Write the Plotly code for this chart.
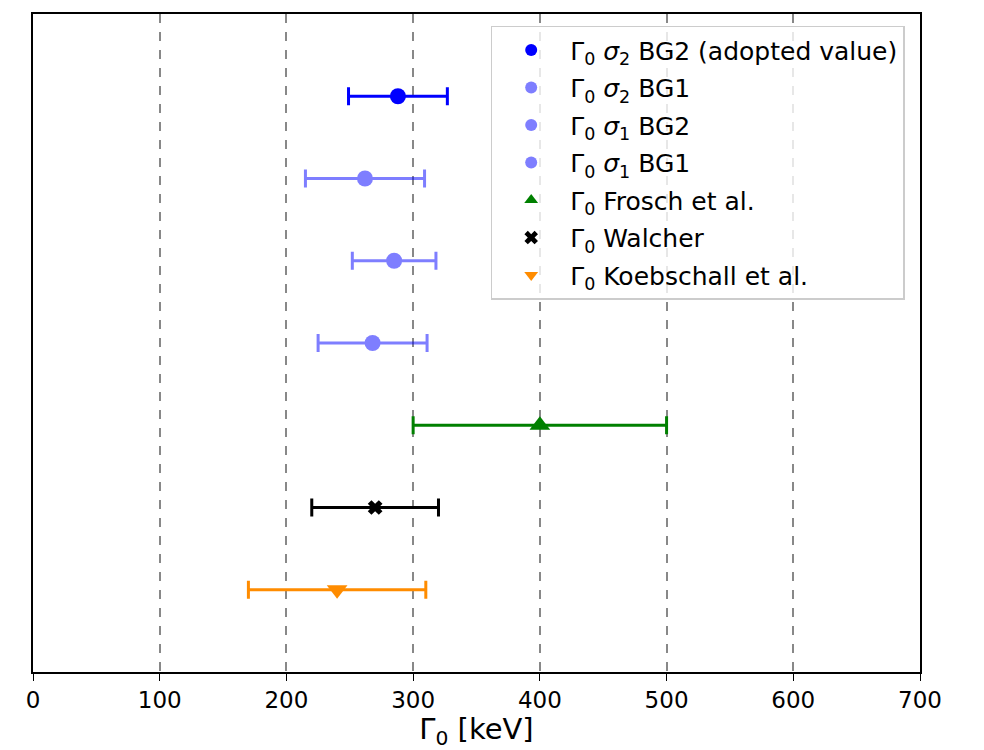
import plotly.graph_objects as go

# Γ0 determinations (keV): central value and symmetric uncertainty
labels = [
    "Γ<sub>0</sub> <i>σ</i><sub>2</sub> BG2 (adopted value)",
    "Γ<sub>0</sub> <i>σ</i><sub>2</sub> BG1",
    "Γ<sub>0</sub> <i>σ</i><sub>1</sub> BG2",
    "Γ<sub>0</sub> <i>σ</i><sub>1</sub> BG1",
    "Γ<sub>0</sub> Frosch et al.",
    "Γ<sub>0</sub> Walcher",
    "Γ<sub>0</sub> Koebschall et al.",
]
gamma0 = [288, 262, 285, 268, 400, 270, 240]
gamma0_err = [39, 47, 33, 43, 100, 50, 70]
rows = [7, 6, 5, 4, 3, 2, 1]

colors = ["blue", "blue", "blue", "blue", "green", "black", "darkorange"]
opacities = [1.0, 0.5, 0.5, 0.5, 1.0, 1.0, 1.0]
symbols = ["circle", "circle", "circle", "circle", "triangle-up", "x", "triangle-down"]
sizes = [16, 16, 16, 16, 18, 13, 18]

fig = go.Figure()
for i, (lab, g, e, r, c, op, sym, sz) in enumerate(
        zip(labels, gamma0, gamma0_err, rows, colors, opacities, symbols, sizes)):
    fig.add_trace(go.Scatter(
        x=[g], y=[r], mode="markers", name=lab, opacity=op,
        legendgroup=f"g{i}",
        marker=dict(color=c, symbol=sym, size=sz, line=dict(width=0)),
        error_x=dict(type="data", array=[e], symmetric=True, color=c, thickness=3, width=9),
    ))

fig.update_layout(
    width=984, height=750,
    margin=dict(l=33, r=64, t=12, b=78),
    plot_bgcolor="white", paper_bgcolor="white",
    font=dict(family="DejaVu Sans", size=23, color="black"),
    showlegend=True,
    legend=dict(
        x=0.516, y=0.982, xanchor="left", yanchor="top",
        bordercolor="#cccccc", borderwidth=1.5, bgcolor="rgba(255,255,255,0.8)",
        font=dict(size=25), itemsizing="constant", itemwidth=68, tracegroupgap=2,
    ),
    xaxis=dict(
        range=[0, 700], dtick=100, tick0=0,
        showgrid=True, gridcolor="#888888", griddash="dash", gridwidth=1.5,
        showline=True, linecolor="black", linewidth=1.5, mirror=True,
        ticks="outside", ticklen=7, tickcolor="black",
        tickfont=dict(size=23), zeroline=False,
        title=dict(text="Γ<sub>0</sub> [keV]", font=dict(size=29), standoff=4),
    ),
    yaxis=dict(
        range=[0, 8], showgrid=False, showticklabels=False, ticks="",
        showline=True, linecolor="black", linewidth=1.5, mirror=True, zeroline=False,
    ),
)

fig.write_html("out.html")
